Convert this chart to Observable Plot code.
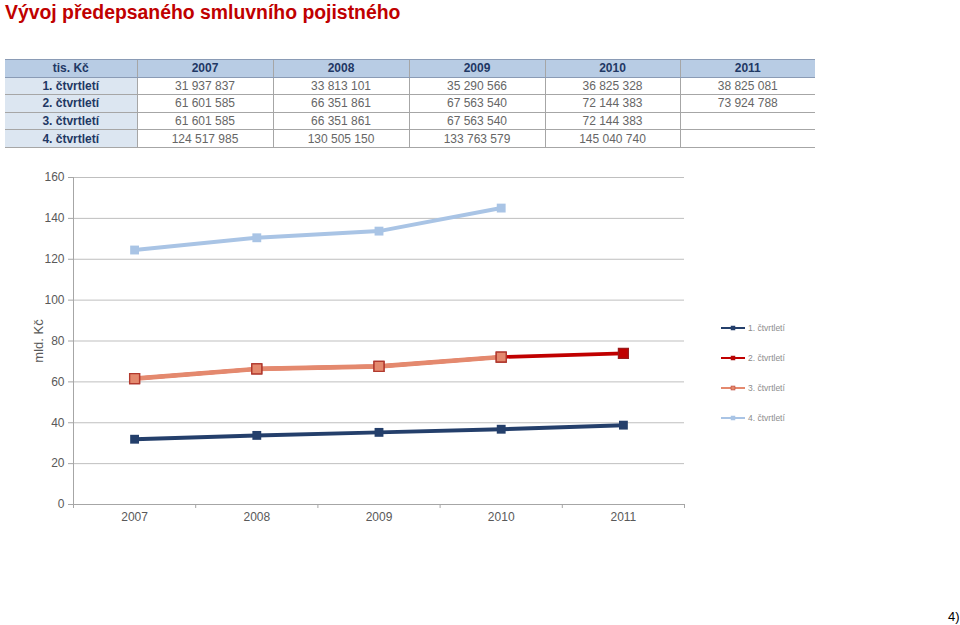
<!DOCTYPE html>
<html>
<head>
<meta charset="utf-8">
<script src="https://cdn.jsdelivr.net/npm/d3@7"></script>
<script src="https://cdn.jsdelivr.net/npm/@observablehq/plot@0.6"></script>
<style>
  body { margin: 0; width: 960px; height: 625px; position: relative; background: #fff; font-family: "Liberation Sans", Arial, sans-serif; overflow: hidden; }
  #title { position: absolute; left: 5px; top: 1px; font-size: 19.4px; font-weight: bold; color: #C00000; }
  #tbl { position: absolute; left: 5px; top: 59px; border-collapse: collapse; font-size: 12px; table-layout: fixed; }
  #tbl td, #tbl th { height: 16.6px; padding: 0; text-align: center; border-bottom: 1px solid #a6a6a6; border-left: 1px solid #a6a6a6; line-height: 16px; }
  #tbl th { background: #B8CCE4; color: #1F3864; font-weight: bold; border-top: 1px solid #8a9bb5; border-bottom: 1px solid #8a9bb5; }
  #tbl td { color: #666666; }
  #tbl td.rh { background: #DCE6F1; color: #1F3864; font-weight: bold; border-left: none; }
  #tbl th.rh { border-left: none; }
  #chart { position: absolute; left: 0; top: 160px; }
  #legend { position: absolute; left: 720px; top: 0; }
  .li { position: absolute; left: 0; width: 90px; height: 12px; font-size: 8.5px; color: #8c8c8c; }
  .li svg { position: absolute; left: 0; top: 0; }
  .li span { position: absolute; left: 28px; top: 0.5px; }
  #note { position: absolute; left: 948px; top: 609px; font-size: 13px; color: #000; }
</style>
</head>
<body>
<div id="title">Vývoj předepsaného smluvního pojistného</div>
<table id="tbl"></table>
<div id="chart"></div>
<div id="legend"></div>
<div id="note">4)</div>
<script>
// ---- data (tis. Kč) ----
const headerLabel = "tis. Kč";
const years = [2007, 2008, 2009, 2010, 2011];
const seriesNames = ["1. čtvrtletí", "2. čtvrtletí", "3. čtvrtletí", "4. čtvrtletí"];
const q1 = [31937837, 33813101, 35290566, 36825328, 38825081];
const q2 = [61601585, 66351861, 67563540, 72144383, 73924788];
const q3 = [61601585, 66351861, 67563540, 72144383, null];
const q4 = [124517985, 130505150, 133763579, 145040740, null];
const yTicks = [0, 20, 40, 60, 80, 100, 120, 140, 160];
const yLabel = "mld. Kč";

const seriesValues = [q1, q2, q3, q4];
const colors = ["#243F6B", "#C00000", "#E4896E", "#A9C4E5"];
const markerStroke = ["#243F6B", "#9B1B1B", "#B23A2E", "#A9C4E5"];

// ---- table ----
const fmt = v => v == null ? "" : d3.format(",")(v).replace(/,/g, " ");
const colW = [132, 136, 136, 136, 135, 135];
const tbl = document.getElementById("tbl");
let html = "<colgroup>" + colW.map(w => `<col style="width:${w}px">`).join("") + "</colgroup>";
html += `<tr><th class="rh">${headerLabel}</th>` + years.map(y => `<th>${y}</th>`).join("") + "</tr>";
seriesNames.forEach((n, i) => {
  html += `<tr><td class="rh">${n}</td>` + seriesValues[i].map(v => `<td>${fmt(v)}</td>`).join("") + "</tr>";
});
tbl.innerHTML = html;

// ---- long data in mld. Kč ----
const rows = [];
seriesValues.forEach((arr, s) => arr.forEach((v, j) => {
  if (v != null) rows.push({ s, name: seriesNames[s], year: years[j], value: v / 1e6 });
}));
const bySeries = s => rows.filter(d => d.s === s);
const boundaries = [years[0] - 0.5, ...years.map(y => y + 0.5)];

const drawOrder = [0, 3, 1, 2];
const widths = [4, 3.6, 4.6, 4];
const marks = [
  Plot.gridY(yTicks, { stroke: "#bfbfbf", strokeOpacity: 1, strokeWidth: 1 }),
  Plot.frame({ anchor: "left", stroke: "#a6a6a6" }),
  Plot.frame({ anchor: "bottom", stroke: "#a6a6a6" }),
  Plot.axisY(yTicks, { tickSize: 5, tickPadding: 4, stroke: "#a6a6a6", color: "#595959", fontSize: 12, label: yLabel, labelAnchor: "center", labelArrow: "none", labelOffset: 40 }),
  Plot.axisX(years, { tickSize: 0, tickPadding: 8, color: "#595959", fontSize: 12, label: null, tickFormat: d => String(d) }),
  Plot.axisX(boundaries, { tickSize: 4, tickPadding: 0, stroke: "#a6a6a6", tickFormat: () => "", label: null })
];
drawOrder.forEach(s => {
  marks.push(Plot.line(bySeries(s), { x: "year", y: "value", stroke: colors[s], strokeWidth: widths[s] }));
});
drawOrder.forEach(s => {
  marks.push(Plot.dot(bySeries(s), { x: "year", y: "value", symbol: "square", r: s === 1 || s === 2 ? 5.6 : 5, fill: colors[s], stroke: markerStroke[s], strokeWidth: s === 1 || s === 2 ? 1.3 : 0 }));
});

const chart = Plot.plot({
  width: 960,
  height: 370,
  marginLeft: 73,
  marginRight: 276,
  marginTop: 17,
  marginBottom: 26,
  style: { fontFamily: "Liberation Sans, Arial, sans-serif", background: "transparent" },
  x: { type: "linear", domain: [years[0] - 0.5, years[years.length - 1] + 0.5] },
  y: { domain: [0, 160] },
  marks
});
chart.querySelectorAll('[aria-label="y-axis label"] text').forEach(t => { t.setAttribute("font-size", "13"); t.setAttribute("fill", "#595959"); });
document.getElementById("chart").appendChild(chart);

// ---- legend ----
const legend = document.getElementById("legend");
seriesNames.forEach((n, i) => {
  const div = document.createElement("div");
  div.className = "li";
  div.style.top = (322 + i * 30) + "px";
  div.innerHTML = `<svg width="26" height="12"><line x1="1" x2="25" y1="6" y2="6" stroke="${colors[i]}" stroke-width="2"/><rect x="11" y="4" width="4" height="4" fill="${colors[i]}" stroke="${markerStroke[i]}" stroke-width="0.5"/></svg><span>${n}</span>`;
  legend.appendChild(div);
});
</script>
</body>
</html>
